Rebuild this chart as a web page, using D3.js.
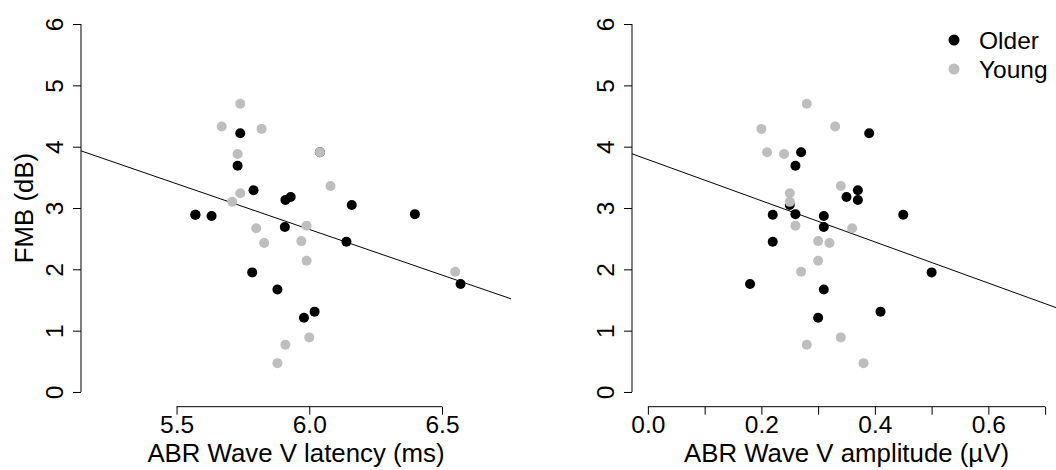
<!DOCTYPE html>
<html>
<head>
<meta charset="utf-8">
<script src="https://cdn.jsdelivr.net/npm/d3@7"></script>
<style>
  body { margin: 0; background: #fff; }
  svg { display: block; font-family: "Liberation Sans", Arial, sans-serif; }
  .axis text { font-size: 24.5px; fill: #000; }
  .axis line, .axis-line { stroke: #000; stroke-width: 1; }
  .title { font-size: 25.8px; fill: #000; }
  .legend-text { font-size: 24.5px; fill: #000; }
</style>
</head>
<body>
<div id="app"></div>
<script>
const WIDTH = 1056
const HEIGHT = 470

// Older listeners
const olderFMB = [4.22, 3.91, 3.69, 3.29, 3.18, 3.13, 3.05, 2.89, 2.87, 2.90, 2.89, 2.69, 2.45, 1.95, 1.76, 1.67, 1.31, 1.21]
const olderLatency = [5.74, 6.04, 5.73, 5.79, 5.93, 5.91, 6.16, 5.571, 5.632, 6.398, 5.571, 5.908, 6.14, 5.785, 6.57, 5.88, 6.02, 5.98]
const olderAmplitude = [0.39, 0.27, 0.26, 0.37, 0.35, 0.37, 0.25, 0.22, 0.31, 0.26, 0.45, 0.31, 0.22, 0.50, 0.18, 0.31, 0.41, 0.30]

// Young listeners
const youngFMB = [4.70, 4.33, 4.29, 3.91, 3.88, 3.36, 3.24, 3.10, 2.71, 2.67, 2.46, 2.43, 2.14, 1.96, 0.89, 0.77, 0.47]
const youngLatency = [5.74, 5.67, 5.82, 6.04, 5.73, 6.08, 5.74, 5.71, 5.99, 5.80, 5.97, 5.83, 5.99, 6.55, 6.00, 5.91, 5.88]
const youngAmplitude = [0.28, 0.33, 0.20, 0.21, 0.24, 0.34, 0.25, 0.25, 0.26, 0.36, 0.30, 0.32, 0.30, 0.27, 0.34, 0.28, 0.38]

// fitted lines (intercept, slope)
const latencyFit = [11.585, -1.489]
const amplitudeFit = [3.79, -3.357]

const groups = ['Older', 'Young']
const groupColors = ['#000000', '#bebebe']

const latencyTicks = [5.5, 6.0, 6.5]
const amplitudeTicks = [0, 0.1, 0.2, 0.3, 0.4, 0.5, 0.6, 0.7]
const fmbTicks = [0, 1, 2, 3, 4, 5, 6]

const color = d3.scaleOrdinal().domain(groups).range(groupColors)

const y = d3.scaleLinear().domain([-0.24, 6.24]).range([406.7, 9.3])

const svg = d3.select('#app').append('svg')
  .attr('width', WIDTH)
  .attr('height', HEIGHT)

function panel(opts) {
  const x = d3.scaleLinear().domain(opts.domain).range(opts.range)
  const [x0, x1] = opts.range
  const g = svg.append('g')

  g.append('clipPath').attr('id', opts.id)
    .append('rect')
    .attr('x', x0).attr('y', y.range()[1])
    .attr('width', x1 - x0).attr('height', y.range()[0] - y.range()[1])

  // y axis
  const yAx = g.append('g').attr('class', 'axis')
    .attr('transform', 'translate(' + x0 + ',0)')
    .call(d3.axisLeft(y).tickValues(fmbTicks).tickSize(8).tickFormat(d3.format('d')))
  yAx.select('.domain').remove()
  yAx.selectAll('text')
    .attr('x', null).attr('dy', null)
    .attr('text-anchor', 'middle')
    .attr('transform', 'translate(-18.5,0) rotate(-90)')
  yAx.append('line').attr('class', 'axis-line')
    .attr('y1', y(fmbTicks[0])).attr('y2', y(fmbTicks[fmbTicks.length - 1]))

  // x axis
  const xAx = g.append('g').attr('class', 'axis')
    .attr('transform', 'translate(0,' + y.range()[0] + ')')
    .call(d3.axisBottom(x).tickValues(opts.ticks).tickSize(8).tickFormat(opts.format))
  xAx.select('.domain').remove()
  xAx.selectAll('text').attr('y', 26.5).attr('dy', null)
  xAx.append('line').attr('class', 'axis-line')
    .attr('x1', x(opts.ticks[0])).attr('x2', x(opts.ticks[opts.ticks.length - 1]))

  g.append('text').attr('class', 'title')
    .attr('x', (x0 + x1) / 2).attr('y', 461.5)
    .attr('text-anchor', 'middle')
    .text(opts.label)

  // regression line
  const [a, b] = opts.fit
  g.append('line')
    .attr('clip-path', 'url(#' + opts.id + ')')
    .attr('x1', x(opts.domain[0])).attr('y1', y(a + b * opts.domain[0]))
    .attr('x2', x(opts.domain[1])).attr('y2', y(a + b * opts.domain[1]))
    .attr('stroke', '#000').attr('stroke-width', 1)

  // points: older first, young on top
  opts.series.forEach(s => {
    g.append('g').selectAll('circle')
      .data(s.xs.map((v, i) => ({ x: v, y: s.ys[i] })))
      .enter().append('circle')
      .attr('cx', d => x(d.x))
      .attr('cy', d => y(d.y))
      .attr('r', 5)
      .style('fill', color(s.group))
  })
  return g
}

panel({
  id: 'clipL',
  domain: [5.14, 6.76],
  range: [81, 511],
  ticks: latencyTicks,
  format: d3.format('.1f'),
  label: 'ABR Wave V latency (ms)',
  fit: latencyFit,
  series: [
    { group: 'Older', xs: olderLatency, ys: olderFMB },
    { group: 'Young', xs: youngLatency, ys: youngFMB }
  ]
})

panel({
  id: 'clipR',
  domain: [-0.028, 0.728],
  range: [632, 1061],
  ticks: amplitudeTicks,
  format: d => Math.round(d * 10) % 2 === 0 ? d3.format('.1f')(d) : '',
  label: 'ABR Wave V amplitude (\u00b5V)',
  fit: amplitudeFit,
  series: [
    { group: 'Older', xs: olderAmplitude, ys: olderFMB },
    { group: 'Young', xs: youngAmplitude, ys: youngFMB }
  ]
})

// y title (left panel only)
svg.append('text').attr('class', 'title')
  .attr('text-anchor', 'middle')
  .attr('transform', 'translate(33,208) rotate(-90)')
  .text('FMB (dB)')

// legend
const legend = svg.append('g')
groups.forEach((grp, i) => {
  legend.append('circle')
    .attr('cx', 954).attr('cy', 40 + i * 29)
    .attr('r', 5.5)
    .style('fill', color(grp))
  legend.append('text').attr('class', 'legend-text')
    .attr('x', 979).attr('y', 48.5 + i * 29)
    .text(grp)
})
</script>
</body>
</html>
